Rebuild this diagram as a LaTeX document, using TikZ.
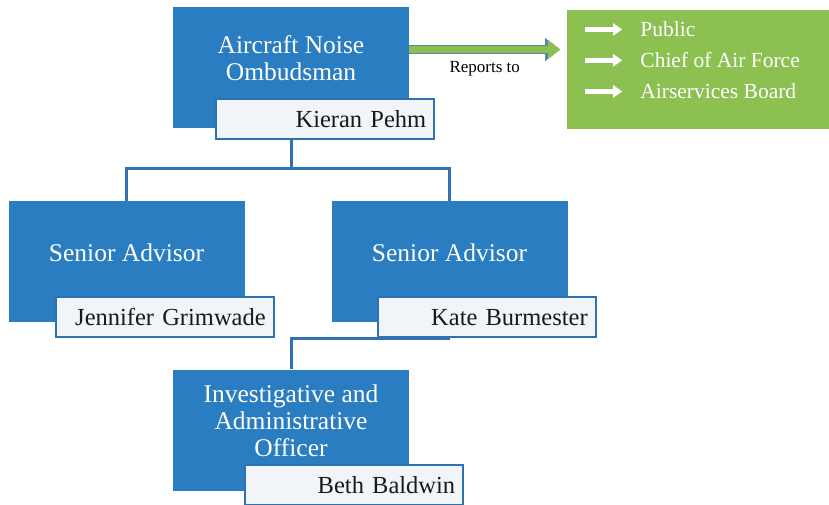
\documentclass[tikz,border=0pt]{standalone}
\usepackage{fontspec}
\setmainfont{Liberation Serif}
\usetikzlibrary{calc}
\usetikzlibrary{arrows.meta}

\definecolor{unitblue}{HTML}{2A7DC0}
\definecolor{lineblue}{HTML}{2E72B2}
\definecolor{panelgreen}{HTML}{8CC152}
\definecolor{namefill}{HTML}{F1F5FA}
\definecolor{arrowedge}{HTML}{5B86A8}

\begin{document}
\begin{tikzpicture}[%
  unit/.style={rectangle,
               fill=unitblue,
               minimum width=236pt,
               minimum height=121pt,
               inner sep=0pt
  },
  title/.style={text=white,
                align=center,
                font=\fontsize{25.5}{27}\selectfont
  },
  holder/.style={rectangle,
                 draw=lineblue,
                 line width=2pt,
                 fill=namefill,
                 minimum height=40pt,
                 text width=202pt,
                 inner xsep=8pt,
                 align=right,
                 text=black!90,
                 font=\fontsize{24.5}{26}\selectfont
  },
  link/.style={draw=lineblue, line width=3pt},
  item/.style={text=white, inner sep=0pt, font=\fontsize{21.5}{24}\selectfont},
  bullet/.style={draw=white, line width=4.5pt, -{Triangle[width=12pt,length=9pt]}},
  reports/.style={draw=panelgreen, line width=7pt,
                  -{Triangle[width=18pt,length=12pt]},
                  preaction={draw=arrowedge, line width=9.5pt,
                             -{Triangle[width=22pt,length=15pt]}}
  }
]
\useasboundingbox (0,0) rectangle (829pt,504pt);

\node [unit] (omb) at (291pt,436.5pt) {};
\node [title] (ombtitle) at ($(omb.center) + (up:9pt)$) {Aircraft Noise\\Ombudsman};
\node [holder, anchor=north east] (ombname)
   at ($(omb.south east) + (26pt,30pt)$) {Kieran Pehm};

\node [unit] (sa1) at ($(omb.center) + (-164.5pt,-194pt)$) {};
\node [title] (sa1title) at ($(sa1.center) + (up:9pt)$) {Senior Advisor};
\node [holder, anchor=north east] (sa1name)
   at ($(sa1.south east) + (30pt,26pt)$) {Jennifer Grimwade};

\node [unit] (sa2) at ($(omb.center) + (158.5pt,-194pt)$) {};
\node [title] (sa2title) at ($(sa2.center) + (up:9pt)$) {Senior Advisor};
\node [holder, anchor=north east] (sa2name)
   at ($(sa2.south east) + (29pt,26pt)$) {Kate Burmester};

\node [unit] (iao) at ($(omb.center) + (down:362.5pt)$) {};
\node [title] (iaotitle) at ($(iao.center) + (up:9pt)$) {Investigative and\\Administrative\\Officer};
\node [holder, anchor=north east] (iaoname)
   at ($(iao.south east) + (55pt,26.5pt)$) {Beth Baldwin};

% reporting lines
\coordinate (fork) at ($(omb.south |- ombname.south) + (down:28pt)$);
\draw [link] (omb.south |- ombname.south) -- (fork);
\draw [link] (sa1.north) |- (fork) -| (sa2.north);
\draw [link] (sa2.south |- sa2name.south) -| (iao.north);

% who the ombudsman reports to
\node [rectangle, fill=panelgreen, anchor=north west, minimum width=262pt,
       minimum height=119pt, inner sep=0pt] (panel)
   at ($(omb.north east) + (158pt,-3pt)$) {};
\node [item, anchor=base west] (pub) at ($(panel.north west) + (73pt,-27pt)$) {Public};
\node [item, anchor=base west] (caf) at ($(pub.base west) + (down:31pt)$) {Chief of Air Force};
\node [item, anchor=base west] (asb) at ($(caf.base west) + (down:31pt)$) {Airservices Board};
\draw [bullet] ([xshift=-55pt]pub.west) -- ([xshift=-18pt]pub.west);
\draw [bullet] ([xshift=-55pt]caf.west) -- ([xshift=-18pt]caf.west);
\draw [bullet] ([xshift=-55pt]asb.west) -- ([xshift=-18pt]asb.west);

\coordinate (repstart) at ($(omb.east) + (up:18pt)$);
\coordinate (repend) at ($(repstart -| panel.west) + (left:7pt)$);
\draw [reports] (repstart) -- (repend)
   node [midway, below=5pt, font=\fontsize{17}{19}\selectfont] (reptext) {Reports to};

\end{tikzpicture}
\end{document}
